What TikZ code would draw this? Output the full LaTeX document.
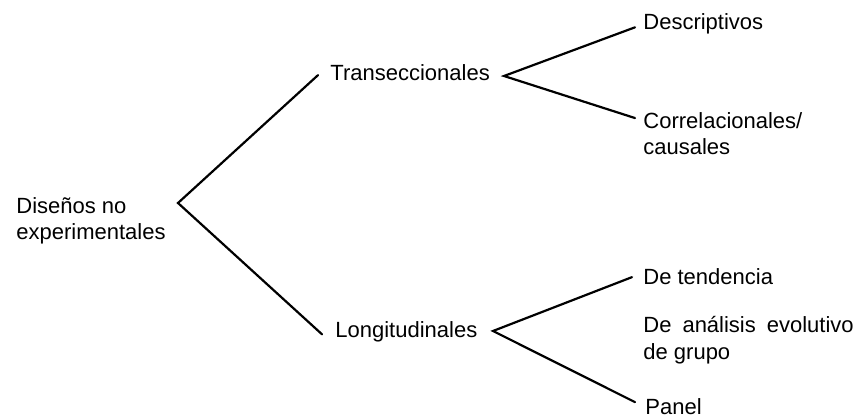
\documentclass[tikz,border=0pt]{standalone}
\usepackage{fontspec}
\setmainfont{Liberation Sans}
\usetikzlibrary{calc}
\begin{document}
\begin{tikzpicture}[x=0.5pt,y=-0.5pt,
  lbl/.style={anchor=base west,inner sep=0pt,align=left,font=\fontsize{11pt}{13.3pt}\selectfont},
  branch/.style={line width=1.1pt,line cap=round,line join=miter}]
\useasboundingbox (0,0) rectangle (866,416);
% nodes (multi-line nodes: base = last line)
\node[lbl] (root) at (16,240) {Diseños no\\experimentales};
\node[lbl] (trans) at (330,81) {Transeccionales};
\node[lbl] (long) at (335,337) {Longitudinales};
\node[lbl] (desc) at (643,30) {Descriptivos};
\node[lbl] (corr) at (643,155) {Correlacionales/\\causales};
\node[lbl] (tend) at (643,285) {De tendencia};
\node[lbl] (anal) at (643,359) {De\hspace{0.5em}análisis\hspace{0.5em}evolutivo\\de grupo};
\node[lbl] (panel) at (645,414) {Panel};
% branching points
\coordinate (v0) at (178,203);
\coordinate (v1) at (504,76);
\coordinate (v2) at (493,331);
% connectors
\draw[branch] ($(trans.west)+(-12,2)$) -- (v0) -- ($(long.west)+(-13,3)$);
\draw[branch] ($(desc.west)+(-8,3)$) -- (v1) -- ($(corr.north west)+(-8,6)$);
\draw[branch] ($(tend.west)+(-11,0)$) -- (v2) -- ($(panel.west)+(-10,-4)$);
\end{tikzpicture}
\end{document}
